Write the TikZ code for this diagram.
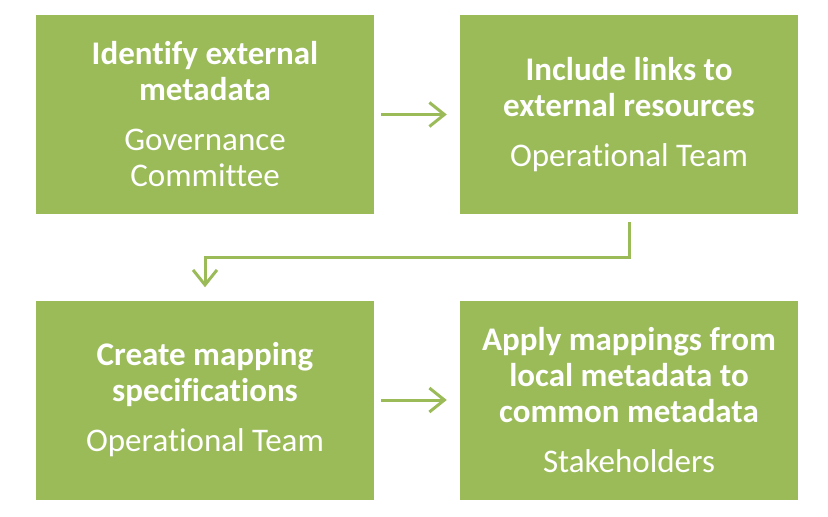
\documentclass[tikz,border=0pt]{standalone}
\usepackage{fontspec}
\setmainfont[Ligatures=NoCommon]{Carlito}
\usetikzlibrary{arrows.meta}
\definecolor{boxgreen}{HTML}{9BBB59}
\tikzset{
  stepbox/.style={fill=boxgreen, draw=none, minimum width=338pt, minimum height=199pt,
    text=white, align=center, inner sep=0pt, font=\fontsize{33}{36}\selectfont},
  arr/.style={draw=boxgreen, line width=3pt, -{Straight Barb[length=15pt,width=24pt,line width=3pt]}}
}
\begin{document}
\begin{tikzpicture}[x=1pt,y=-1pt]
\useasboundingbox (0,0) rectangle (828,517);
\node[stepbox] (tl) at (205,114.5) {\textbf{Identify external}\\\textbf{metadata}\\[14pt]Governance\\Committee};
\node[stepbox] (tr) at (629,114.5) {\textbf{Include links to}\\\textbf{external resources}\\[14pt]Operational Team};
\node[stepbox] (bl) at (205,400) {\textbf{Create mapping}\\\textbf{specifications}\\[14pt]Operational Team};
\node[stepbox] (br) at (629,400) {\textbf{Apply mappings from}\\\textbf{local metadata to}\\\textbf{common metadata}\\[14pt]Stakeholders};
\draw[arr, shorten <=7pt, shorten >=13pt] (tl.east) -- (tr.west);
\draw[arr, shorten <=7pt, shorten >=13pt] (bl.east) -- (br.west);
\draw[arr, shorten <=8pt, shorten >=13pt] (tr.south) -- ++(0,43) -| (bl.north);
\end{tikzpicture}
\end{document}
